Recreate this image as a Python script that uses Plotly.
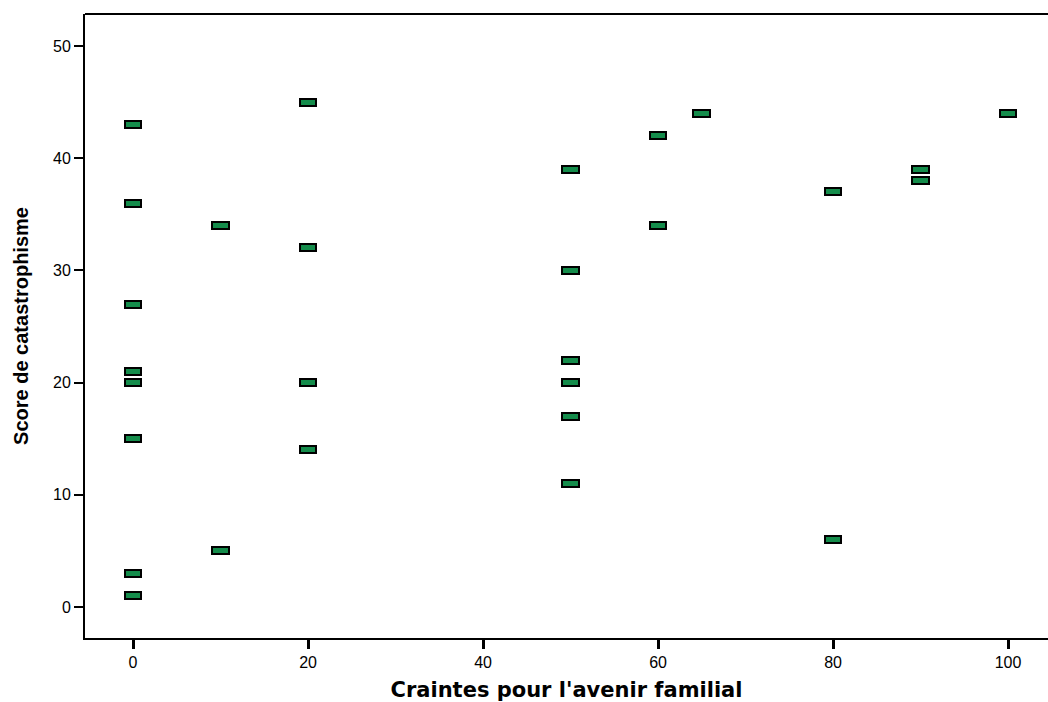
import plotly.graph_objects as go

craintes = [0, 0, 0, 0, 0, 0, 0, 0,
            10, 10,
            20, 20, 20, 20,
            50, 50, 50, 50, 50, 50,
            60, 60, 65,
            80, 80,
            90, 90, 100]
score = [43, 36, 27, 21, 20, 15, 3, 1,
         34, 5,
         45, 32, 20, 14,
         39, 30, 22, 20, 17, 11,
         42, 34, 44,
         37, 6,
         39, 38, 44]

x_ticks = [0, 20, 40, 60, 80, 100]
y_ticks = [0, 10, 20, 30, 40, 50]

box_h = 0.62
fig = go.Figure()
fig.add_trace(go.Bar(
    x=craintes,
    y=[box_h] * len(score),
    base=[s - box_h / 2 for s in score],
    width=1.9,
    marker=dict(color="#148c4b", line=dict(color="black", width=2)),
    showlegend=False,
    hoverinfo="skip",
))

fig.update_layout(
    width=1048, height=702,
    margin=dict(l=85, r=0, t=14, b=64),
    plot_bgcolor="white", paper_bgcolor="white",
    barmode="overlay",
    bargap=0,
    font=dict(family="Liberation Sans, Arial, sans-serif", size=16, color="black"),
    xaxis=dict(
        range=[-5.49, 104.57], tickvals=x_ticks, showgrid=False, zeroline=False,
        showline=True, linecolor="black", linewidth=2,
        ticks="outside", ticklen=9, tickwidth=3, tickcolor="black",
        tickfont=dict(size=16),
        title=dict(text="<b>Craintes pour l'avenir familial</b>",
                   font=dict(family="DejaVu Sans, Liberation Sans, sans-serif", size=21), standoff=16),
    ),
    yaxis=dict(
        range=[-2.76, 52.85], tickvals=y_ticks, showgrid=False, zeroline=False,
        showline=True, linecolor="black", linewidth=2,
        ticks="outside", ticklen=9, tickwidth=2, tickcolor="black",
        tickfont=dict(size=16),
        title=dict(text="<b>Score de catastrophisme</b>",
                   font=dict(family="Liberation Sans Narrow, Arial Narrow, Liberation Sans, sans-serif", size=20), standoff=19),
    ),
    shapes=[dict(type="line", xref="paper", yref="paper", x0=0, x1=1, y0=1, y1=1,
                 line=dict(color="black", width=2))],
)

fig.write_html("out.html")
